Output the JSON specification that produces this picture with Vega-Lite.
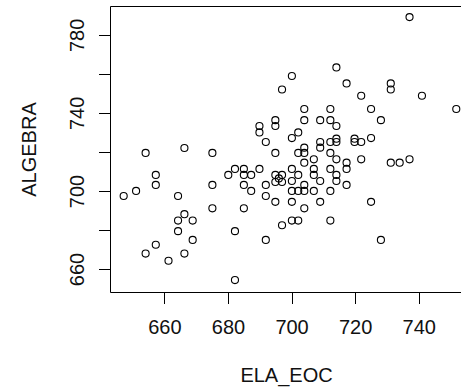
{
  "$schema": "https://vega.github.io/schema/vega-lite/v6.json",
  "autosize": {"type": "none"},
  "padding": {"left": 110, "top": 6, "right": 0, "bottom": 97},
  "width": 352,
  "height": 286,
  "background": "white",
  "config": {
    "view": {"stroke": "black", "strokeWidth": 1},
    "font": "Liberation Sans",
    "axis": {
      "domain": false,
      "grid": false,
      "tickColor": "black",
      "tickWidth": 1,
      "tickSize": 11.5,
      "labelFont": "Liberation Sans",
      "labelFontSize": 20,
      "labelColor": "#111",
      "titleFont": "Liberation Sans",
      "titleFontSize": 20,
      "titleFontWeight": "normal",
      "titleColor": "#111"
    }
  },
  "data": {
    "values": [
      {"ELA_EOC": 737.1, "ALGEBRA": 789.1},
      {"ELA_EOC": 714.1, "ALGEBRA": 763.3},
      {"ELA_EOC": 700.1, "ALGEBRA": 758.9},
      {"ELA_EOC": 697.0, "ALGEBRA": 752.0},
      {"ELA_EOC": 717.3, "ALGEBRA": 755.1},
      {"ELA_EOC": 731.2, "ALGEBRA": 755.1},
      {"ELA_EOC": 731.2, "ALGEBRA": 752.0},
      {"ELA_EOC": 721.9, "ALGEBRA": 748.8},
      {"ELA_EOC": 741.0, "ALGEBRA": 748.8},
      {"ELA_EOC": 751.8, "ALGEBRA": 742.0},
      {"ELA_EOC": 704.0, "ALGEBRA": 742.0},
      {"ELA_EOC": 712.2, "ALGEBRA": 742.0},
      {"ELA_EOC": 725.0, "ALGEBRA": 742.0},
      {"ELA_EOC": 694.9, "ALGEBRA": 736.3},
      {"ELA_EOC": 694.9, "ALGEBRA": 733.3},
      {"ELA_EOC": 704.0, "ALGEBRA": 736.3},
      {"ELA_EOC": 709.0, "ALGEBRA": 736.3},
      {"ELA_EOC": 712.2, "ALGEBRA": 736.3},
      {"ELA_EOC": 714.1, "ALGEBRA": 733.3},
      {"ELA_EOC": 728.1, "ALGEBRA": 736.3},
      {"ELA_EOC": 689.9, "ALGEBRA": 733.3},
      {"ELA_EOC": 689.9, "ALGEBRA": 730.0},
      {"ELA_EOC": 702.1, "ALGEBRA": 730.0},
      {"ELA_EOC": 700.1, "ALGEBRA": 727.1},
      {"ELA_EOC": 691.9, "ALGEBRA": 725.1},
      {"ELA_EOC": 709.0, "ALGEBRA": 725.1},
      {"ELA_EOC": 712.2, "ALGEBRA": 725.1},
      {"ELA_EOC": 714.1, "ALGEBRA": 726.8},
      {"ELA_EOC": 714.1, "ALGEBRA": 725.1},
      {"ELA_EOC": 719.8, "ALGEBRA": 726.8},
      {"ELA_EOC": 719.8, "ALGEBRA": 725.1},
      {"ELA_EOC": 721.9, "ALGEBRA": 725.1},
      {"ELA_EOC": 725.0, "ALGEBRA": 727.1},
      {"ELA_EOC": 709.0, "ALGEBRA": 722.2},
      {"ELA_EOC": 704.0, "ALGEBRA": 722.2},
      {"ELA_EOC": 666.3, "ALGEBRA": 722.0},
      {"ELA_EOC": 654.1, "ALGEBRA": 719.5},
      {"ELA_EOC": 675.1, "ALGEBRA": 719.5},
      {"ELA_EOC": 694.9, "ALGEBRA": 719.5},
      {"ELA_EOC": 702.1, "ALGEBRA": 719.5},
      {"ELA_EOC": 704.0, "ALGEBRA": 719.5},
      {"ELA_EOC": 712.2, "ALGEBRA": 719.5},
      {"ELA_EOC": 707.0, "ALGEBRA": 716.2},
      {"ELA_EOC": 714.1, "ALGEBRA": 716.2},
      {"ELA_EOC": 721.9, "ALGEBRA": 716.2},
      {"ELA_EOC": 737.1, "ALGEBRA": 716.2},
      {"ELA_EOC": 704.0, "ALGEBRA": 714.5},
      {"ELA_EOC": 717.3, "ALGEBRA": 714.5},
      {"ELA_EOC": 731.2, "ALGEBRA": 714.5},
      {"ELA_EOC": 734.0, "ALGEBRA": 714.5},
      {"ELA_EOC": 682.2, "ALGEBRA": 711.3},
      {"ELA_EOC": 685.0, "ALGEBRA": 711.3},
      {"ELA_EOC": 689.9, "ALGEBRA": 711.3},
      {"ELA_EOC": 700.1, "ALGEBRA": 711.3},
      {"ELA_EOC": 707.0, "ALGEBRA": 711.3},
      {"ELA_EOC": 712.2, "ALGEBRA": 711.3},
      {"ELA_EOC": 717.3, "ALGEBRA": 711.3},
      {"ELA_EOC": 680.1, "ALGEBRA": 708.2},
      {"ELA_EOC": 685.0, "ALGEBRA": 708.2},
      {"ELA_EOC": 687.3, "ALGEBRA": 708.2},
      {"ELA_EOC": 694.9, "ALGEBRA": 708.2},
      {"ELA_EOC": 697.0, "ALGEBRA": 708.2},
      {"ELA_EOC": 702.1, "ALGEBRA": 708.2},
      {"ELA_EOC": 707.0, "ALGEBRA": 708.2},
      {"ELA_EOC": 714.1, "ALGEBRA": 708.2},
      {"ELA_EOC": 657.3, "ALGEBRA": 708.2},
      {"ELA_EOC": 694.9, "ALGEBRA": 704.6},
      {"ELA_EOC": 697.0, "ALGEBRA": 704.6},
      {"ELA_EOC": 696.0, "ALGEBRA": 706.4},
      {"ELA_EOC": 700.1, "ALGEBRA": 705.1},
      {"ELA_EOC": 709.0, "ALGEBRA": 705.1},
      {"ELA_EOC": 714.1, "ALGEBRA": 705.1},
      {"ELA_EOC": 657.3, "ALGEBRA": 703.1},
      {"ELA_EOC": 675.1, "ALGEBRA": 703.1},
      {"ELA_EOC": 685.0, "ALGEBRA": 703.1},
      {"ELA_EOC": 691.9, "ALGEBRA": 703.1},
      {"ELA_EOC": 704.0, "ALGEBRA": 703.1},
      {"ELA_EOC": 717.3, "ALGEBRA": 703.1},
      {"ELA_EOC": 651.1, "ALGEBRA": 700.0},
      {"ELA_EOC": 687.3, "ALGEBRA": 700.0},
      {"ELA_EOC": 700.1, "ALGEBRA": 700.0},
      {"ELA_EOC": 702.1, "ALGEBRA": 700.0},
      {"ELA_EOC": 704.0, "ALGEBRA": 700.0},
      {"ELA_EOC": 707.0, "ALGEBRA": 700.0},
      {"ELA_EOC": 712.2, "ALGEBRA": 700.0},
      {"ELA_EOC": 647.2, "ALGEBRA": 697.4},
      {"ELA_EOC": 664.3, "ALGEBRA": 697.4},
      {"ELA_EOC": 691.9, "ALGEBRA": 697.4},
      {"ELA_EOC": 694.9, "ALGEBRA": 694.4},
      {"ELA_EOC": 700.1, "ALGEBRA": 694.4},
      {"ELA_EOC": 709.0, "ALGEBRA": 694.4},
      {"ELA_EOC": 725.0, "ALGEBRA": 694.4},
      {"ELA_EOC": 675.1, "ALGEBRA": 691.1},
      {"ELA_EOC": 685.0, "ALGEBRA": 691.1},
      {"ELA_EOC": 704.0, "ALGEBRA": 691.1},
      {"ELA_EOC": 666.3, "ALGEBRA": 688.1},
      {"ELA_EOC": 664.3, "ALGEBRA": 684.8},
      {"ELA_EOC": 668.9, "ALGEBRA": 684.8},
      {"ELA_EOC": 700.1, "ALGEBRA": 684.8},
      {"ELA_EOC": 702.1, "ALGEBRA": 684.8},
      {"ELA_EOC": 712.2, "ALGEBRA": 684.8},
      {"ELA_EOC": 664.3, "ALGEBRA": 679.4},
      {"ELA_EOC": 682.2, "ALGEBRA": 679.4},
      {"ELA_EOC": 697.0, "ALGEBRA": 682.4},
      {"ELA_EOC": 668.9, "ALGEBRA": 674.9},
      {"ELA_EOC": 691.9, "ALGEBRA": 674.9},
      {"ELA_EOC": 728.1, "ALGEBRA": 674.9},
      {"ELA_EOC": 657.3, "ALGEBRA": 672.4},
      {"ELA_EOC": 654.1, "ALGEBRA": 667.9},
      {"ELA_EOC": 666.3, "ALGEBRA": 667.9},
      {"ELA_EOC": 661.3, "ALGEBRA": 664.2},
      {"ELA_EOC": 682.2, "ALGEBRA": 654.3}
    ]
  },
  "mark": {"type": "point", "shape": "circle", "filled": false, "stroke": "black", "strokeWidth": 1.1, "size": 50, "opacity": 1, "clip": true},
  "encoding": {
    "x": {
      "field": "ELA_EOC",
      "type": "quantitative",
      "scale": {"domain": [642.9, 753.6], "nice": false, "zero": false},
      "axis": {
        "values": [660, 680, 700, 720, 740],
        "labelPadding": 14,
        "labelFlush": false,
        "labelOverlap": false,
        "title": "ELA_EOC",
        "titlePadding": 28
      }
    },
    "y": {
      "field": "ALGEBRA",
      "type": "quantitative",
      "scale": {"domain": [648.2, 794.8], "nice": false, "zero": false},
      "axis": {
        "values": [660, 680, 700, 720, 740, 760, 780],
        "labelExpr": "datum.value % 40 == 20 ? datum.label : ''",
        "labelAngle": 270,
        "labelAlign": "center",
        "labelBaseline": "alphabetic",
        "labelPadding": 15.5,
        "labelFlush": false,
        "labelOverlap": false,
        "title": "ALGEBRA",
        "titleBaseline": "alphabetic",
        "titlePadding": 32
      }
    }
  }
}
